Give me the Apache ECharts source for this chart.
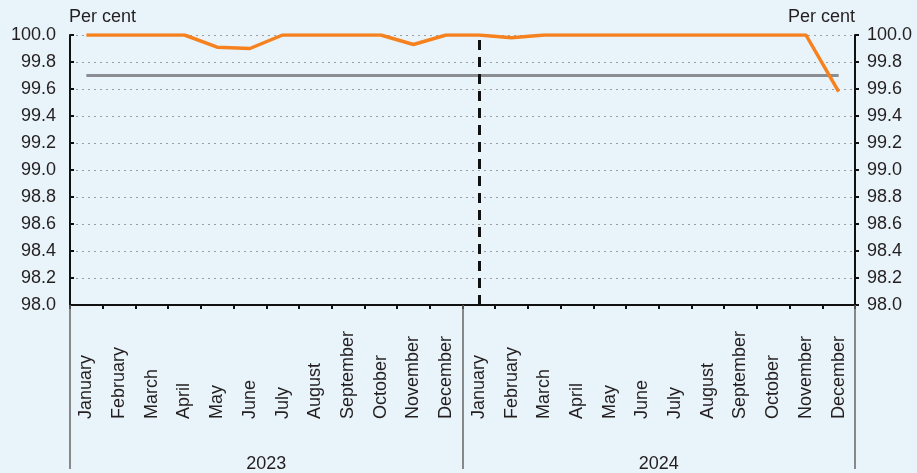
<!DOCTYPE html>
<html>
<head>
<meta charset="utf-8">
<script src="https://cdn.jsdelivr.net/npm/echarts@6/dist/echarts.min.js"></script>
<style>
  html, body { margin: 0; padding: 0; background: #e9f3fa; }
  #chart { width: 917px; height: 473px; }
</style>
</head>
<body>
<div id="chart"></div>
<script>
// Monthly categories for two years
const months2023 = ['January','February','March','April','May','June','July','August','September','October','November','December'];
const months2024 = ['January','February','March','April','May','June','July','August','September','October','November','December'];
const years = ['2023', '2024'];

// Per cent outcome per month
const outcome = [100.0, 100.0, 100.0, 100.0, 99.91, 99.90, 100.0, 100.0, 100.0, 100.0, 99.93, 100.0,
                 100.0, 99.98, 100.0, 100.0, 100.0, 100.0, 100.0, 100.0, 100.0, 100.0, 100.0, 99.58];
// Target level
const target = [99.7, 99.7, 99.7, 99.7, 99.7, 99.7, 99.7, 99.7, 99.7, 99.7, 99.7, 99.7,
                99.7, 99.7, 99.7, 99.7, 99.7, 99.7, 99.7, 99.7, 99.7, 99.7, 99.7, 99.7];

// Y axis range
const yMin = 98.0, yMax = 100.0, yStep = 0.2;

const categories = months2023.concat(months2024);
const yearStartIndex = months2023.length;

const font = 'Liberation Sans, Arial, sans-serif';
const textColor = '#231f20';

const chart = echarts.init(document.getElementById('chart'));

const yAxisBase = {
  type: 'value',
  min: yMin, max: yMax, interval: yStep,
  name: 'Per cent',
  nameLocation: 'end',
  nameGap: 9,
  axisLine: { show: true, lineStyle: { color: '#111', width: 2 } },
  axisTick: { show: true, length: 4, lineStyle: { color: '#111', width: 2 } },
  axisLabel: {
    color: textColor, fontFamily: font, fontSize: 18,
    formatter: v => v.toFixed(1)
  }
};

chart.setOption({
  backgroundColor: '#e9f3fa',
  animation: false,
  grid: { left: 70, right: 62, top: 35, bottom: 165, containLabel: false },
  xAxis: [
    {
      type: 'category',
      position: 'bottom',
      data: categories,
      boundaryGap: true,
      axisLine: { show: true, lineStyle: { color: '#111', width: 2 } },
      axisTick: { show: true, length: 4, interval: 0, lineStyle: { color: '#111', width: 2 } },
      axisLabel: {
        interval: 0, rotate: 90, align: 'left', margin: 114,
        color: textColor, fontFamily: font, fontSize: 18
      },
      splitLine: { show: false }
    },
    {
      type: 'category',
      position: 'bottom',
      data: years,
      boundaryGap: true,
      axisLine: { show: false },
      axisTick: { show: true, length: 164, interval: 0, lineStyle: { color: '#666', width: 1.5 } },
      axisLabel: {
        interval: 0, margin: 150,
        color: textColor, fontFamily: font, fontSize: 18
      },
      splitLine: { show: false }
    }
  ],
  yAxis: [
    Object.assign({}, yAxisBase, {
      position: 'left',
      axisTick: { show: true, inside: true, length: 4, lineStyle: { color: '#111', width: 2 } },
      axisLabel: Object.assign({}, yAxisBase.axisLabel, { margin: 14 }),
      nameTextStyle: { color: textColor, fontFamily: font, fontSize: 18, align: 'left', verticalAlign: 'bottom', padding: [0, 0, 0, -1] },
      splitLine: { show: true, lineStyle: { color: '#9a9ea3', type: [2, 4], width: 1 } }
    }),
    Object.assign({}, yAxisBase, {
      position: 'right',
      axisLabel: Object.assign({}, yAxisBase.axisLabel, { margin: 12 }),
      nameTextStyle: { color: textColor, fontFamily: font, fontSize: 18, align: 'right', verticalAlign: 'bottom' },
      splitLine: { show: false }
    })
  ],
  series: [
    {
      name: 'Target',
      type: 'line',
      data: target,
      xAxisIndex: 0, yAxisIndex: 0,
      symbol: 'none',
      lineStyle: { color: '#8a8d91', width: 3 },
      z: 2
    },
    {
      name: 'Outcome',
      type: 'line',
      data: outcome,
      xAxisIndex: 0, yAxisIndex: 0,
      symbol: 'none',
      lineStyle: { color: '#f5821f', width: 3.5 },
      z: 3,
      markLine: {
        silent: true,
        symbol: 'none',
        label: { show: false },
        lineStyle: { color: '#111', width: 3, type: [10, 7] },
        data: [{ xAxis: yearStartIndex }]
      }
    }
  ]
});
</script>
</body>
</html>
